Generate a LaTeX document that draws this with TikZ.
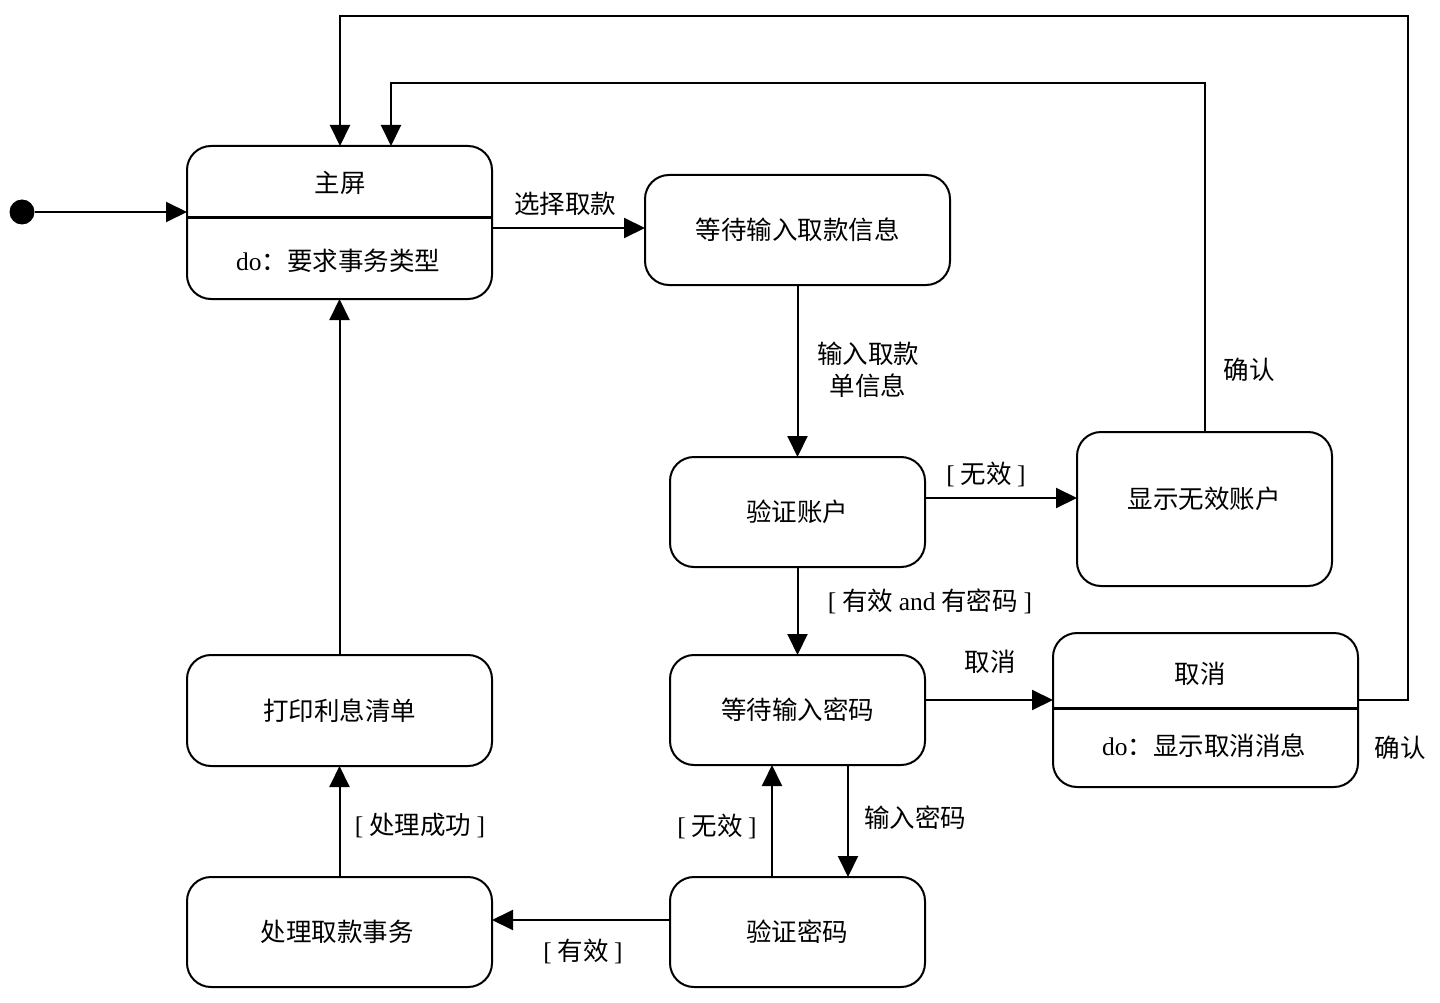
\documentclass[tikz,border=0pt]{standalone}
\usepackage{fontspec}
\setmainfont{Liberation Serif}
\newfontfamily\cjk{Noto Sans CJK SC}
\usetikzlibrary{arrows.meta,calc}
\tikzset{
  st/.style={draw, line width=2pt, rounded corners=24pt, inner sep=0pt, outer sep=0pt},
  txt/.style={font=\fontsize{25.5}{30}\selectfont\cjk, inner sep=0pt, align=center},
  arr/.style={line width=2pt, -{Triangle[length=21pt,width=20pt]}},
  divl/.style={line width=3pt}
}
\newcommand{\rb}[1]{{\rmfamily #1}}
\begin{document}
\begin{tikzpicture}[x=1pt,y=-1pt]
\useasboundingbox (0,0) rectangle (1440,1003);
% states
\node[st, minimum width=305pt, minimum height=153pt] (zp) at (339.5,222.5) {};
\node[st, minimum width=305pt, minimum height=110pt] (dq) at (797.5,230) {};
\node[st, minimum width=255pt, minimum height=110pt] (yz) at (797.5,512) {};
\node[st, minimum width=255pt, minimum height=154pt] (wx) at (1204.5,509) {};
\node[st, minimum width=255pt, minimum height=110pt] (dm) at (797.5,710) {};
\node[st, minimum width=305pt, minimum height=154pt] (qx) at (1205.5,710) {};
\node[st, minimum width=305pt, minimum height=111pt] (dy) at (339.5,710.5) {};
\node[st, minimum width=305pt, minimum height=110pt] (cl) at (339.5,932) {};
\node[st, minimum width=255pt, minimum height=110pt] (ym) at (797.5,932) {};
% dividers
\coordinate (d1) at (0,218);
\coordinate (d2) at (0,708);
\draw[divl] (zp.west |- d1) -- (zp.east |- d1);
\draw[divl] (qx.west |- d2) -- (qx.east |- d2);
% texts
\node[txt] (t1) at (340,183) {主屏};
\node[txt] (t2) at (338,261) {\rb{do}：要求事务类型};
\node[txt] (t5) at (dq) {等待输入取款信息};
\node[txt] (t6) at (797,512) {验证账户};
\node[txt] (t7) at (1204,499) {显示无效账户};
\node[txt] (t8) at (dm) {等待输入密码};
\node[txt] (t3) at (1200,674) {取消};
\node[txt] (t4) at (1204,746) {\rb{do}：显示取消消息};
\node[txt] (t9) at (dy) {打印利息清单};
\node[txt] (t10) at (337,932) {处理取款事务};
\node[txt] (t11) at (797,932) {验证密码};
% initial
\node[circle, fill=black, minimum size=25pt, inner sep=0pt, outer sep=0pt] (init) at (22,212) {};
\draw[arr] (init) -- (zp.west |- init);
% transitions
\coordinate (y1) at (0,228);
\draw[arr] (zp.east |- y1) -- (dq.west |- y1);
\node[txt] (l1) at (565,204) {选择取款};
\draw[arr] (dq.south) -- (yz.north);
\node[txt] (l2) at (868,370) {输入取款\\[2pt]单信息};
\coordinate (y2) at (0,498);
\draw[arr] (yz.east |- y2) -- (wx.west |- y2);
\node[txt] (l3) at (986,474) {\rb{[} 无效 \rb{]}};
\draw[arr] (yz.south) -- (dm.north);
\node[txt] (l4) at (930,601) {\rb{[} 有效 \rb{and} 有密码 \rb{]}};
\coordinate (y3) at (0,700);
\draw[arr] (dm.east |- y3) -- (qx.west |- y3);
\node[txt] (l5) at (990,662) {取消};
\coordinate (x1) at (848,0);
\draw[arr] (dm.south -| x1) -- (ym.north -| x1);
\node[txt] (l6) at (915,818) {输入密码};
\coordinate (x2) at (772,0);
\draw[arr] (ym.north -| x2) -- (dm.south -| x2);
\node[txt] (l7) at (717,826) {\rb{[} 无效 \rb{]}};
\coordinate (y4) at (0,920);
\draw[arr] (ym.west |- y4) -- (cl.east |- y4);
\node[txt] (l8) at (583,951) {\rb{[} 有效 \rb{]}};
\draw[arr] (cl.north) -- (dy.south);
\node[txt] (l9) at (420,826) {\rb{[} 处理成功 \rb{]}};
\draw[arr] (dy.north) -- (zp.south);
% back to main
\coordinate (c1) at (391,83);
\draw[arr] (wx.north) |- (c1) -- (zp.north -| c1);
\node[txt] (l10) at (1249,370) {确认};
\coordinate (c2) at (1408,700);
\coordinate (c3) at (340,16);
\draw[arr] (qx.east |- c2) -- (c2) |- (c3) -- (zp.north -| c3);
\node[txt] (l11) at (1400,748) {确认};
\end{tikzpicture}
\end{document}
